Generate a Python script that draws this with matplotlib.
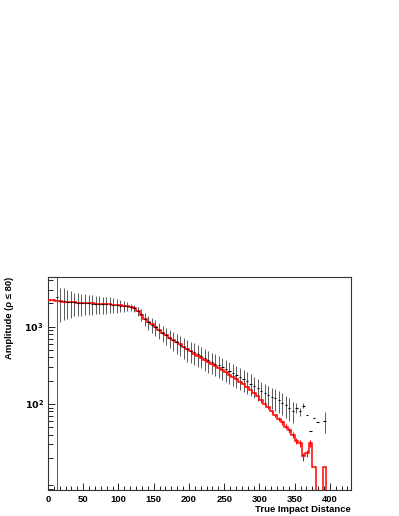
import numpy as np
import matplotlib
matplotlib.use("Agg")
import matplotlib.pyplot as plt
from matplotlib.ticker import MultipleLocator, FixedLocator, NullFormatter

plt.rcParams['font.family'] = ['Liberation Sans', 'DejaVu Sans']

# bins of 5 units, 0 .. 400
bin_edges = np.arange(0, 405, 5)

# red histogram (reco)
red_vals = [2200, 2190, 2160, 2150, 2120, 2110, 2090, 2070, 2050, 2040,
            2030, 2010, 2000, 1990, 1975, 1960, 1950, 1955, 1930, 1905,
            1885, 1860, 1830, 1800, 1730, 1610, 1430, 1270, 1150, 1070,
            990, 905, 840, 780, 725, 675, 630, 590, 550, 512,
            478, 448, 422, 398, 373, 350, 330, 310, 291, 273,
            256, 240, 224, 209, 194, 180, 166, 152, 139, 126,
            112, 101, 91, 80, 71, 64, 58, 51, 46, 40,
            33, 31, 21, 23, 31, 15.5, 0, 0, 15.5, 0]
red_err = [66, 65, 65, 64, 64, 63, 63, 62, 62, 61,
           61, 60, 60, 60, 59, 59, 59, 59, 58, 57,
           57, 56, 55, 54, 52, 48, 43, 38, 35, 32,
           30, 27, 25, 24, 22, 21, 19, 18, 17, 16,
           15, 14, 13, 12, 12, 11, 10, 10, 9, 9,
           8, 8, 7, 7, 7, 6, 6, 6, 5, 5,
           5, 5, 4, 4, 4, 4, 4, 3.5, 3.5, 3.5,
           3, 3, 2.5, 2.5, 3, 0, 0, 0, 0, 0]

# black points (true), nan = empty bin
black_vals = [np.nan, np.nan, 2400, 2150, 2180, 2120, 2100, 2060, 2050, 2040,
              2020, 2000, 1990, 1985, 1990, 1950, 1960, 1940, 1920, 1900,
              1880, 1850, 1840, 1790, 1740, 1580, 1440, 1260, 1140, 1060,
              985, 900, 835, 775, 720, 672, 625, 588, 548, 510,
              490, 465, 440, 418, 395, 372, 352, 333, 315, 298,
              280, 265, 250, 235, 222, 208, 196, 184, 172, 160,
              148, 140, 131, 124, 118, 111, 104, 97, 90, 82,
              89, 80, 95, 72, 45, 65, 58, np.nan, 60, np.nan]
black_err = [0, 0, 2500, 1000, 950, 850, 800, 700, 680, 650,
             620, 580, 560, 540, 520, 500, 480, 450, 420, 380,
             330, 280, 220, 180, 170, 200, 240, 250, 240, 230,
             220, 210, 200, 190, 185, 180, 175, 170, 165, 158,
             150, 145, 138, 130, 124, 117, 110, 104, 98, 93,
             88, 83, 78, 74, 70, 66, 62, 58, 54, 50,
             46, 44, 41, 39, 37, 35, 33, 31, 29, 25,
             13, 10, 7, 0, 0, 0, 0, 0, 18, 0]

centers = 0.5 * (bin_edges[:-1] + bin_edges[1:])

fig = plt.figure(figsize=(3.99, 5.16), dpi=100)
ax = fig.add_axes([48/399, 1 - 490/516, 303/399, 213/516])
ax.set_yscale('log', nonpositive='clip')

# vertical errors look grey in the reference, the bin dashes black
ax.errorbar(centers, black_vals, yerr=black_err, fmt='none',
            ecolor='#5a5a5a', elinewidth=0.7, capsize=0, zorder=2)
ax.errorbar(centers, black_vals, xerr=1.6, fmt='none',
            ecolor='black', elinewidth=0.8, capsize=0, zorder=4)
ax.stairs(red_vals, bin_edges, color='red', lw=1.1, baseline=None, zorder=3)
ax.errorbar(centers, red_vals, yerr=red_err, fmt='none', ecolor='red',
            elinewidth=0.8, capsize=0, zorder=3)

ax.set_xlim(0, 430)
ax.set_ylim(7.7, 4400)

ax.xaxis.set_major_locator(MultipleLocator(50))
ax.xaxis.set_minor_locator(MultipleLocator(50 / 6))
ax.yaxis.set_major_locator(FixedLocator([100, 1000]))
ax.yaxis.set_minor_locator(FixedLocator(
    [d * m for d in (1, 10, 100, 1000) for m in range(2, 10)]))
ax.yaxis.set_minor_formatter(NullFormatter())
ax.set_yticks([100, 1000], [r'$\mathbf{10^{2}}$', r'$\mathbf{10^{3}}$'])
ax.set_xticks(np.arange(0, 401, 50), [str(v) for v in range(0, 401, 50)])

ax.tick_params(which='both', direction='in', top=False, right=False)
ax.tick_params(axis='x', which='major', length=5, width=0.6, labelsize=6.8, pad=3.5)
ax.tick_params(axis='x', which='minor', length=2.6, width=0.6)
ax.tick_params(axis='y', which='major', length=5, width=0.6, labelsize=6.8, pad=3)
ax.tick_params(axis='y', which='minor', length=3.6, width=0.6)
for lab in ax.get_xticklabels():
    lab.set_fontweight('bold')

for sp in ax.spines.values():
    sp.set_linewidth(0.8)
    sp.set_color('#333333')

fig.text(351/399, 1 - 509/516, 'True Impact Distance', ha='right', va='center',
         fontsize=6.8, fontweight='bold')
fig.text(10/399, 1 - 277/516, 'Amplitude (ρ ≤ 80)', ha='center', va='top',
         rotation=90, fontsize=6.8, fontweight='bold')

fig.savefig('out.png', dpi=100)
